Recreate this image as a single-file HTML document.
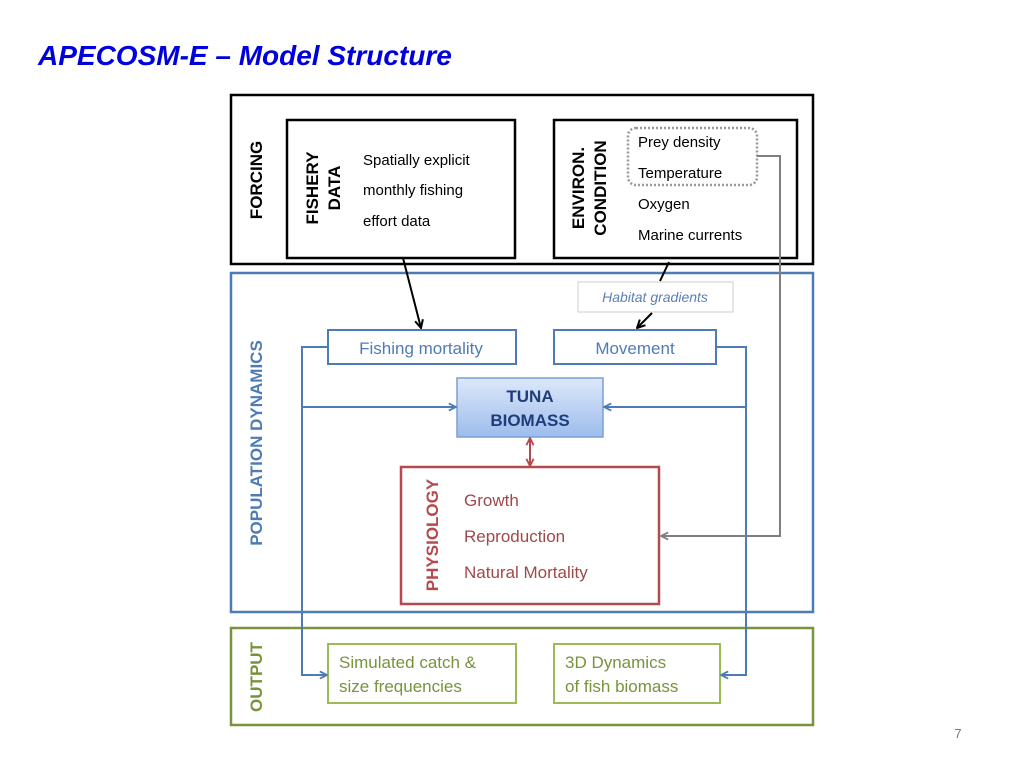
<!DOCTYPE html>
<html><head><meta charset="utf-8"><style>
html,body{margin:0;padding:0;background:#fff;}
svg{display:block;font-family:"Liberation Sans",Arial,sans-serif;}
</style></head><body>
<svg width="1024" height="768" viewBox="0 0 1024 768" xmlns="http://www.w3.org/2000/svg">
<defs>
<linearGradient id="tg" x1="0" y1="0" x2="0" y2="1">
<stop offset="0" stop-color="#dde8fa"/><stop offset="1" stop-color="#9dbcec"/>
</linearGradient>
<marker id="ab" viewBox="0 0 10 10" refX="9" refY="5" markerWidth="9" markerHeight="9" orient="auto" markerUnits="userSpaceOnUse"><path d="M1,1 L9,5 L1,9" fill="none" stroke="#4f7bb5" stroke-width="2"/></marker>
<marker id="ak" viewBox="0 0 10 10" refX="9" refY="5" markerWidth="10" markerHeight="10" orient="auto" markerUnits="userSpaceOnUse"><path d="M1,1 L9,5 L1,9" fill="none" stroke="#000" stroke-width="2"/></marker>
<marker id="ag" viewBox="0 0 10 10" refX="9" refY="5" markerWidth="9" markerHeight="9" orient="auto" markerUnits="userSpaceOnUse"><path d="M1,1 L9,5 L1,9" fill="none" stroke="#7f7f7f" stroke-width="2"/></marker>
<marker id="ar" viewBox="0 0 10 10" refX="9" refY="5" markerWidth="9" markerHeight="9" orient="auto" markerUnits="userSpaceOnUse"><path d="M1,1 L9,5 L1,9" fill="none" stroke="#b5494b" stroke-width="2"/></marker>
</defs>

<text x="38" y="65" font-family="Liberation Sans, sans-serif" font-size="28" font-weight="bold" font-style="italic" fill="#0000dd">APECOSM-E – Model Structure</text>

<!-- Forcing -->
<rect x="231" y="95" width="582" height="169" fill="none" stroke="#000" stroke-width="2.5"/>
<text transform="translate(262,180) rotate(-90)" text-anchor="middle" font-size="17" font-weight="bold">FORCING</text>
<rect x="287" y="120" width="228" height="138" fill="none" stroke="#000" stroke-width="2.5"/>
<text transform="translate(318,188) rotate(-90)" text-anchor="middle" font-size="17" font-weight="bold">FISHERY</text>
<text transform="translate(340,188) rotate(-90)" text-anchor="middle" font-size="17" font-weight="bold">DATA</text>
<text x="363" y="165" font-size="15">Spatially explicit</text>
<text x="363" y="195" font-size="15">monthly fishing</text>
<text x="363" y="226" font-size="15">effort data</text>
<rect x="554" y="120" width="243" height="138" fill="none" stroke="#000" stroke-width="2.5"/>
<text transform="translate(584,188) rotate(-90)" text-anchor="middle" font-size="17" font-weight="bold">ENVIRON.</text>
<text transform="translate(606,188) rotate(-90)" text-anchor="middle" font-size="17" font-weight="bold">CONDITION</text>
<rect x="628" y="128" width="129" height="57" rx="8" fill="none" stroke="#999" stroke-width="2.5" stroke-dasharray="2,2"/>
<text x="638" y="147" font-size="15">Prey density</text>
<text x="638" y="178" font-size="15">Temperature</text>
<text x="638" y="209" font-size="15">Oxygen</text>
<text x="638" y="240" font-size="15">Marine currents</text>

<!-- Population dynamics -->
<rect x="231" y="273" width="582" height="339" fill="none" stroke="#4f7bb5" stroke-width="2.5"/>
<text transform="translate(262,443) rotate(-90)" text-anchor="middle" font-size="17" font-weight="bold" fill="#4f7bb5">POPULATION DYNAMICS</text>
<rect x="578" y="282" width="155" height="30" fill="#fff" stroke="#ccc" stroke-width="1"/>
<text x="655" y="302" text-anchor="middle" font-size="14" font-style="italic" fill="#5b7fb8">Habitat gradients</text>
<rect x="328" y="330" width="188" height="34" fill="#fff" stroke="#4f7bb5" stroke-width="2"/>
<text x="421" y="354" text-anchor="middle" font-size="17" fill="#4f7bb5">Fishing mortality</text>
<rect x="554" y="330" width="162" height="34" fill="#fff" stroke="#4f7bb5" stroke-width="2"/>
<text x="635" y="354" text-anchor="middle" font-size="17" fill="#4f7bb5">Movement</text>
<rect x="457" y="378" width="146" height="59" fill="url(#tg)" stroke="#7a9fd6" stroke-width="1.5"/>
<text x="530" y="402" text-anchor="middle" font-size="17" font-weight="bold" fill="#1f3d7a">TUNA</text>
<text x="530" y="426" text-anchor="middle" font-size="17" font-weight="bold" fill="#1f3d7a">BIOMASS</text>

<rect x="401" y="467" width="258" height="137" fill="#fff" stroke="#b5494b" stroke-width="2.5"/>
<text transform="translate(438,535) rotate(-90)" text-anchor="middle" font-size="17" font-weight="bold" fill="#b5494b">PHYSIOLOGY</text>
<text x="464" y="506" font-size="17" fill="#a0484a">Growth</text>
<text x="464" y="542" font-size="17" fill="#a0484a">Reproduction</text>
<text x="464" y="578" font-size="17" fill="#a0484a">Natural Mortality</text>

<!-- Output -->
<rect x="231" y="628" width="582" height="97" fill="none" stroke="#77933c" stroke-width="2.5"/>
<text transform="translate(262,677) rotate(-90)" text-anchor="middle" font-size="17" font-weight="bold" fill="#77933c">OUTPUT</text>
<rect x="328" y="644" width="188" height="59" fill="#fff" stroke="#9bbb59" stroke-width="2"/>
<text x="339" y="668" font-size="17" fill="#77933c">Simulated catch &amp;</text>
<text x="339" y="692" font-size="17" fill="#77933c">size frequencies</text>
<rect x="554" y="644" width="166" height="59" fill="#fff" stroke="#9bbb59" stroke-width="2"/>
<text x="565" y="668" font-size="17" fill="#77933c">3D Dynamics</text>
<text x="565" y="692" font-size="17" fill="#77933c">of fish biomass</text>

<!-- connectors -->
<polyline points="328,347 302,347 302,675 327,675" fill="none" stroke="#4f7bb5" stroke-width="2" marker-end="url(#ab)"/>
<line x1="302" y1="407" x2="456" y2="407" stroke="#4f7bb5" stroke-width="2" marker-end="url(#ab)"/>
<polyline points="716,347 746,347 746,675 721,675" fill="none" stroke="#4f7bb5" stroke-width="2" marker-end="url(#ab)"/>
<line x1="746" y1="407" x2="604" y2="407" stroke="#4f7bb5" stroke-width="2" marker-end="url(#ab)"/>
<polyline points="757,156 780,156 780,536 661,536" fill="none" stroke="#7f7f7f" stroke-width="2" marker-end="url(#ag)"/>
<line x1="403" y1="258" x2="421" y2="328" stroke="#000" stroke-width="2" marker-end="url(#ak)"/>
<line x1="669" y1="262" x2="660" y2="281" stroke="#000" stroke-width="2"/>
<line x1="652" y1="313" x2="637" y2="328" stroke="#000" stroke-width="2" marker-end="url(#ak)"/>
<line x1="530" y1="452" x2="530" y2="466" stroke="#b5494b" stroke-width="2" marker-end="url(#ar)"/>
<line x1="530" y1="452" x2="530" y2="438" stroke="#b5494b" stroke-width="2" marker-end="url(#ar)"/>

<text x="958" y="738" text-anchor="middle" font-size="13" fill="#777">7</text>
</svg>
</body></html>
